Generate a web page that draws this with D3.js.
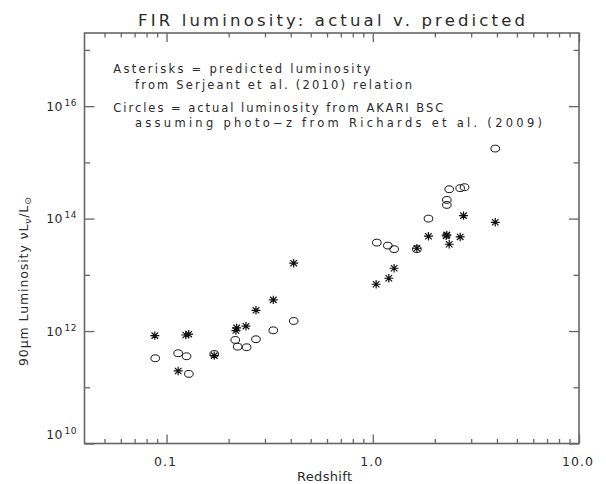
<!DOCTYPE html>
<html><head><meta charset="utf-8">
<script src="https://cdn.jsdelivr.net/npm/d3@7"></script>
<style>body{margin:0;background:#fff}svg text{font-family:"DejaVu Sans",sans-serif;fill:#2a2a2a}</style>
</head><body><svg id="c" width="606" height="484"></svg>
<script>
// Predicted luminosity (asterisks)
const predZ = [0.0877, 0.124, 0.128, 0.1138, 0.1703, 0.217, 0.2187, 0.2427, 0.2714, 0.3293, 0.4135,
               1.038, 1.196, 1.269, 1.636, 1.862, 2.286, 2.27, 2.347, 2.653, 2.754, 3.925];
const predL = [8.3e11, 8.5e11, 8.8e11, 1.95e11, 3.65e11, 1.02e12, 1.14e12, 1.22e12, 2.34e12, 3.58e12, 1.61e13,
               6.8e12, 8.7e12, 1.31e13, 2.97e13, 4.86e13, 5.13e13, 4.92e13, 3.5e13, 4.72e13, 1.13e14, 8.6e13];
// Actual luminosity (circles)
const actZ = [0.0881, 0.1138, 0.125, 0.1283, 0.1703, 0.2153, 0.2212, 0.2445, 0.2714, 0.3293, 0.4135,
              1.046, 1.183, 1.269, 1.636, 1.862, 2.286, 2.286, 2.347, 2.653, 2.785, 3.925];
const actL = [3.28e11, 4.03e11, 3.56e11, 1.73e11, 3.91e11, 6.95e11, 5.28e11, 5.15e11, 7.15e11, 1.03e12, 1.51e12,
              3.74e13, 3.31e13, 2.86e13, 2.86e13, 1.0e14, 2.15e14, 1.75e14, 3.33e14, 3.48e14, 3.62e14, 1.76e15];

const xMajor = [0.1, 1, 10];
const xMajorLabels = ["0.1", "1.0", "10.0"];
const xMinor = [0.05, 0.06, 0.07, 0.08, 0.09, 0.2, 0.3, 0.4, 0.5, 0.6, 0.7, 0.8, 0.9, 2, 3, 4, 5, 6, 7, 8, 9];
const yMajor = [1e10, 1e12, 1e14, 1e16];
const yMajorExp = ["10", "12", "14", "16"];
const yMinor = [1e11, 1e13, 1e15, 1e17];

const titleText = "FIR luminosity: actual v. predicted";
const xTitle = "Redshift";
const legendLines = [
  {t: "Asterisks = predicted luminosity", indent: 0},
  {t: "from Serjeant et al. (2010) relation", indent: 1},
  {t: "Circles = actual luminosity from AKARI BSC", indent: 0},
  {t: "assuming photo\u2212z from Richards et al. (2009)", indent: 1}
];
const legendWidths = [257, 277, 330, 407];
const legendBaselines = [72.5, 88.5, 111.5, 127];

const svg = d3.select("#c");
const L = 84.5, R = 579, T = 33, B = 443.5;
const x = d3.scaleLog().domain([0.04, 10]).range([L, R]);
const y = d3.scaleLog().domain([1e10, 2e17]).range([B, T]);
const axCol = "#666";

function ticks(axisFn, scale, vals, size, tr) {
  const g = svg.append("g").attr("transform", tr)
    .call(axisFn(scale).tickValues(vals).tickSize(size).tickFormat(""));
  g.select(".domain").remove();
  g.selectAll("line").attr("stroke", axCol).attr("stroke-width", 1.3);
  g.selectAll("text").remove();
}
ticks(d3.axisBottom, x, xMajor, -9, `translate(0,${B})`);
ticks(d3.axisBottom, x, xMinor, -4.5, `translate(0,${B})`);
ticks(d3.axisTop, x, xMajor, -9, `translate(0,${T})`);
ticks(d3.axisTop, x, xMinor, -4.5, `translate(0,${T})`);
ticks(d3.axisLeft, y, yMajor, -10, `translate(${L},0)`);
ticks(d3.axisLeft, y, yMinor, -5.5, `translate(${L},0)`);
ticks(d3.axisRight, y, yMajor, -10, `translate(${R},0)`);
ticks(d3.axisRight, y, yMinor, -5.5, `translate(${R},0)`);

svg.append("rect").attr("x", L).attr("y", T).attr("width", R - L).attr("height", B - T)
  .attr("fill", "none").attr("stroke", axCol).attr("stroke-width", 1.6);

// x tick labels
svg.selectAll(".xl").data(xMajor).join("text")
  .attr("x", d => x(d) - 1).attr("y", 466).attr("text-anchor", "middle")
  .attr("font-size", 12.5).attr("letter-spacing", 1)
  .text((d, i) => xMajorLabels[i]);

// y tick labels
yMajor.forEach((v, i) => {
  const yy = y(v) + (i === 0 ? -5 : 4.5);
  const t = svg.append("text").attr("x", 77).attr("y", yy).attr("text-anchor", "end")
    .attr("font-size", 12.5).attr("letter-spacing", 0.5);
  t.append("tspan").text("10");
  t.append("tspan").attr("font-size", 9).attr("dy", -5).attr("dx", 1.5).text(yMajorExp[i]);
});

// title
svg.append("text").attr("x", 138).attr("y", 26).attr("font-size", 16.5)
  .attr("textLength", 387).attr("lengthAdjust", "spacing").text(titleText);

// x title
svg.append("text").attr("x", 297).attr("y", 481).attr("font-size", 13)
  .attr("textLength", 55).attr("lengthAdjust", "spacing").text(xTitle);

// y title
const yt = svg.append("text").attr("transform", "translate(28,366) rotate(-90)")
  .attr("font-size", 12.5).attr("letter-spacing", 0.9);
yt.append("tspan").text("90\u03bcm Luminosity \u03bdL");
yt.append("tspan").attr("font-size", 9).attr("dy", 3).text("\u03bd");
yt.append("tspan").attr("dy", -3).text("/L");
yt.append("tspan").attr("font-size", 9).attr("dy", 3).text("\u2299");

// legend text
legendLines.forEach((d, i) => {
  svg.append("text").attr("x", d.indent ? 135 : 113.3).attr("y", legendBaselines[i])
    .attr("font-size", 11.5).attr("textLength", legendWidths[i]).attr("lengthAdjust", "spacing")
    .text(d.t);
});

// circles
svg.append("g").selectAll("ellipse").data(actZ).join("ellipse")
  .attr("cx", (d) => x(d)).attr("cy", (d, i) => y(actL[i]))
  .attr("rx", 4.3).attr("ry", 3.4).attr("fill", "none").attr("stroke", "#111").attr("stroke-width", 1);

// asterisks
const ast = "M-4.5,0L4.5,0M0,-4.2L0,4.2M-3.3,-3.1L3.3,3.1M-3.3,3.1L3.3,-3.1";
svg.append("g").selectAll("path").data(predZ).join("path")
  .attr("transform", (d, i) => `translate(${x(d)},${y(predL[i])})`)
  .attr("d", ast).attr("fill", "none").attr("stroke", "#111").attr("stroke-width", 1.2);
</script></body></html>
